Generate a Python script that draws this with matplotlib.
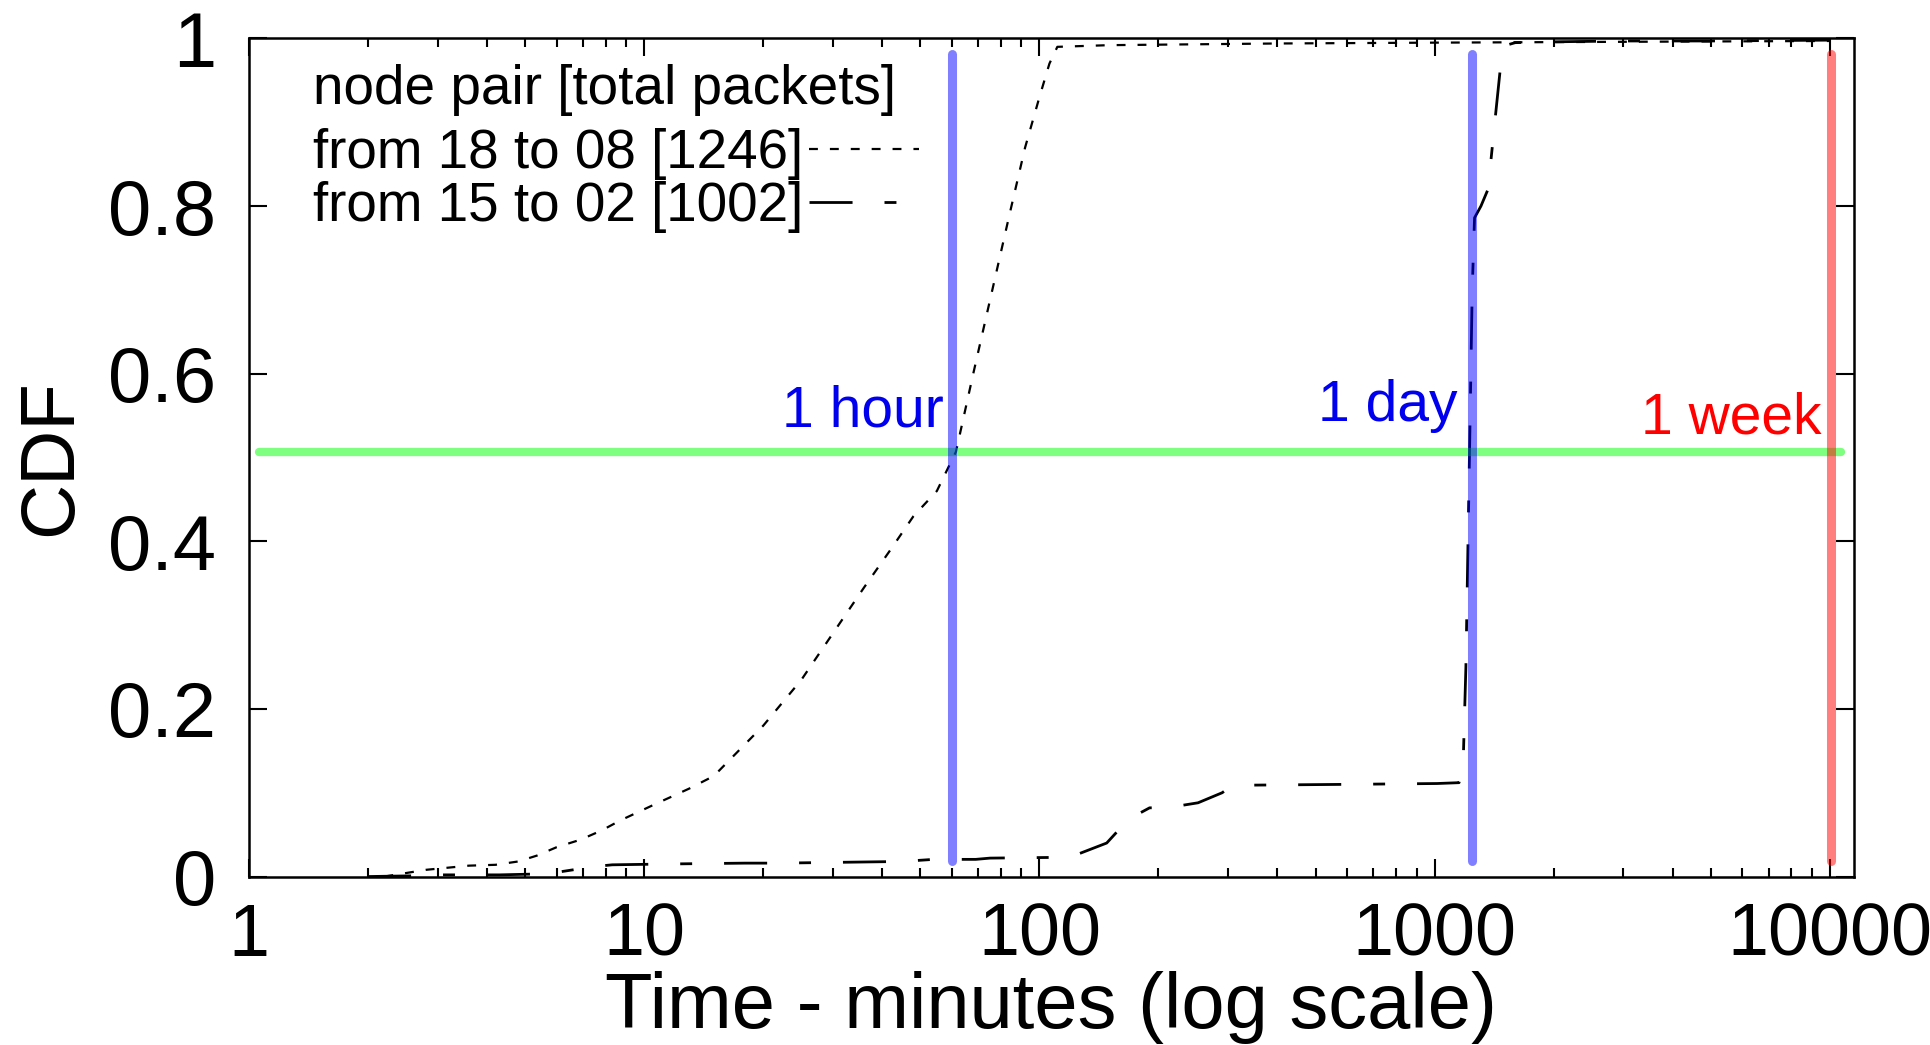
import matplotlib
matplotlib.use("Agg")
import matplotlib.pyplot as plt
from matplotlib.ticker import FixedLocator, NullFormatter

plt.rcParams['font.family'] = ['Liberation Sans', 'DejaVu Sans']

# CDF of packet delivery delay for two node pairs (minutes)
x_18_08 = [2.2, 2.8, 3.6, 4.2, 4.8, 5.35, 6.0, 6.9, 7.8, 8.7, 10.5, 13, 15, 20, 25, 30,
           36, 42, 48, 55, 61.5, 68, 76, 84, 92, 100, 106, 111, 150, 400, 1000, 3000, 10000]
y_18_08 = [0.0, 0.008, 0.013, 0.014, 0.018, 0.025, 0.035, 0.044, 0.055, 0.067, 0.085, 0.105,
           0.12, 0.18, 0.235, 0.29, 0.345, 0.39, 0.43, 0.46, 0.507, 0.6, 0.7, 0.79, 0.87,
           0.93, 0.97, 0.99, 0.992, 0.994, 0.995, 0.996, 0.997]

x_15_02 = [2.0, 2.7, 3.0, 4.3, 5.3, 6.0, 6.6, 7.5, 8.3, 11.5, 18, 22, 45, 54, 69, 75, 118,
           124, 148, 167, 180, 190, 206, 230, 252, 290, 304, 330, 600, 1015, 1153, 1181,
           1200, 1215, 1230, 1245, 1262, 1310, 1365, 1420, 1482, 1520, 1600, 2000, 3000,
           5000, 10000]
y_15_02 = [0.0, 0.001, 0.002, 0.002, 0.003, 0.005, 0.008, 0.012, 0.014, 0.015, 0.016, 0.016,
           0.018, 0.0205, 0.0205, 0.022, 0.023, 0.026, 0.04, 0.067, 0.076, 0.082, 0.082,
           0.085, 0.088, 0.1, 0.107, 0.109, 0.110, 0.111, 0.112, 0.135, 0.25, 0.4, 0.55,
           0.7, 0.786, 0.80, 0.82, 0.9, 0.985, 0.992, 0.995, 0.996, 0.997, 0.997, 0.998]

labels = ["from 18 to 08 [1246]", "from 15 to 02 [1002]"]
legend_title = "node pair [total packets]"

# reference marks: 1 hour, 1 day, 1 week, and the median
hour_x = 60
day_x = 1240
week_x = 10080
marker_span = (0.018, 0.982)
median_y = 0.507
median_span = (1.06, 10700)

xticks = [1, 10, 100, 1000, 10000]
xticklabels = ["1", "10", "100", "1000", "10000"]
yticks = [0, 0.2, 0.4, 0.6, 0.8, 1]
yticklabels = ["0", "0.2", "0.4", "0.6", "0.8", "1"]

fig = plt.figure(figsize=(19.31, 10.45), dpi=100)
ax = fig.add_axes([0.129, 0.1612, 0.831, 0.802])

ax.plot(x_18_08, y_18_08, color='black', lw=1.6, linestyle=(0, (4, 5.4)),
        label=labels[0])
ax.plot(x_15_02, y_15_02, color='black', lw=2.0, linestyle=(0, (15.5, 11.5, 4.3, 11.5)),
        label=labels[1])

ax.plot([median_span[0], median_span[1]], [median_y, median_y], color='lime', alpha=0.5,
        lw=6, solid_capstyle='round')
ax.plot([hour_x, hour_x], marker_span, color='blue', alpha=0.5, lw=6.5,
        solid_capstyle='round')
ax.plot([day_x, day_x], marker_span, color='blue', alpha=0.5, lw=6.5,
        solid_capstyle='round')
ax.plot([week_x, week_x], marker_span, color='red', alpha=0.5, lw=6.5,
        solid_capstyle='round')

ax.annotate("1 hour", xy=(hour_x, 0.537), xytext=(-6, 0), textcoords='offset points',
            ha='right', va='baseline', color='#0000ee', fontsize=41)
ax.annotate("1 day", xy=(day_x, 0.543), xytext=(-10, 0), textcoords='offset points',
            ha='right', va='baseline', color='#0000ee', fontsize=41)
ax.annotate("1 week", xy=(week_x, 0.529), xytext=(-7, 0), textcoords='offset points',
            ha='right', va='baseline', color='#ff0000', fontsize=41)

ax.set_xscale('log')
ax.set_xlim(1, 11500)
ax.set_ylim(0, 1)

ax.xaxis.set_major_locator(FixedLocator(xticks))
ax.set_xticklabels(xticklabels)
ax.xaxis.set_minor_locator(FixedLocator([m * 10 ** d for d in range(4) for m in range(2, 10)]))
ax.xaxis.set_minor_formatter(NullFormatter())
ax.set_yticks(yticks)
ax.set_yticklabels(yticklabels)

ax.tick_params(which='both', direction='in', top=True, right=True, width=1.5)
ax.tick_params(which='major', length=13)
ax.tick_params(which='minor', length=6.5)
ax.tick_params(axis='x', which='major', labelsize=53, pad=18)
ax.tick_params(axis='y', which='major', labelsize=56, pad=24)
for s in ax.spines.values():
    s.set_linewidth(1.8)

ax.set_xlabel("Time - minutes (log scale)", fontsize=56, labelpad=0)
ax.set_ylabel("CDF", fontsize=55, labelpad=15)

# key header, then the two entries with their line samples on the right
ax.text(0.04, 0.939, legend_title, transform=ax.transAxes, fontsize=39.5,
        ha='left', va='center')
ax.legend(loc='upper left', bbox_to_anchor=(0.04, 0.893), fontsize=39.5,
          frameon=False, markerfirst=False, handlelength=2.0, handletextpad=0.1,
          labelspacing=0.02, borderpad=0, borderaxespad=0)

fig.savefig("out.png", dpi=100)
